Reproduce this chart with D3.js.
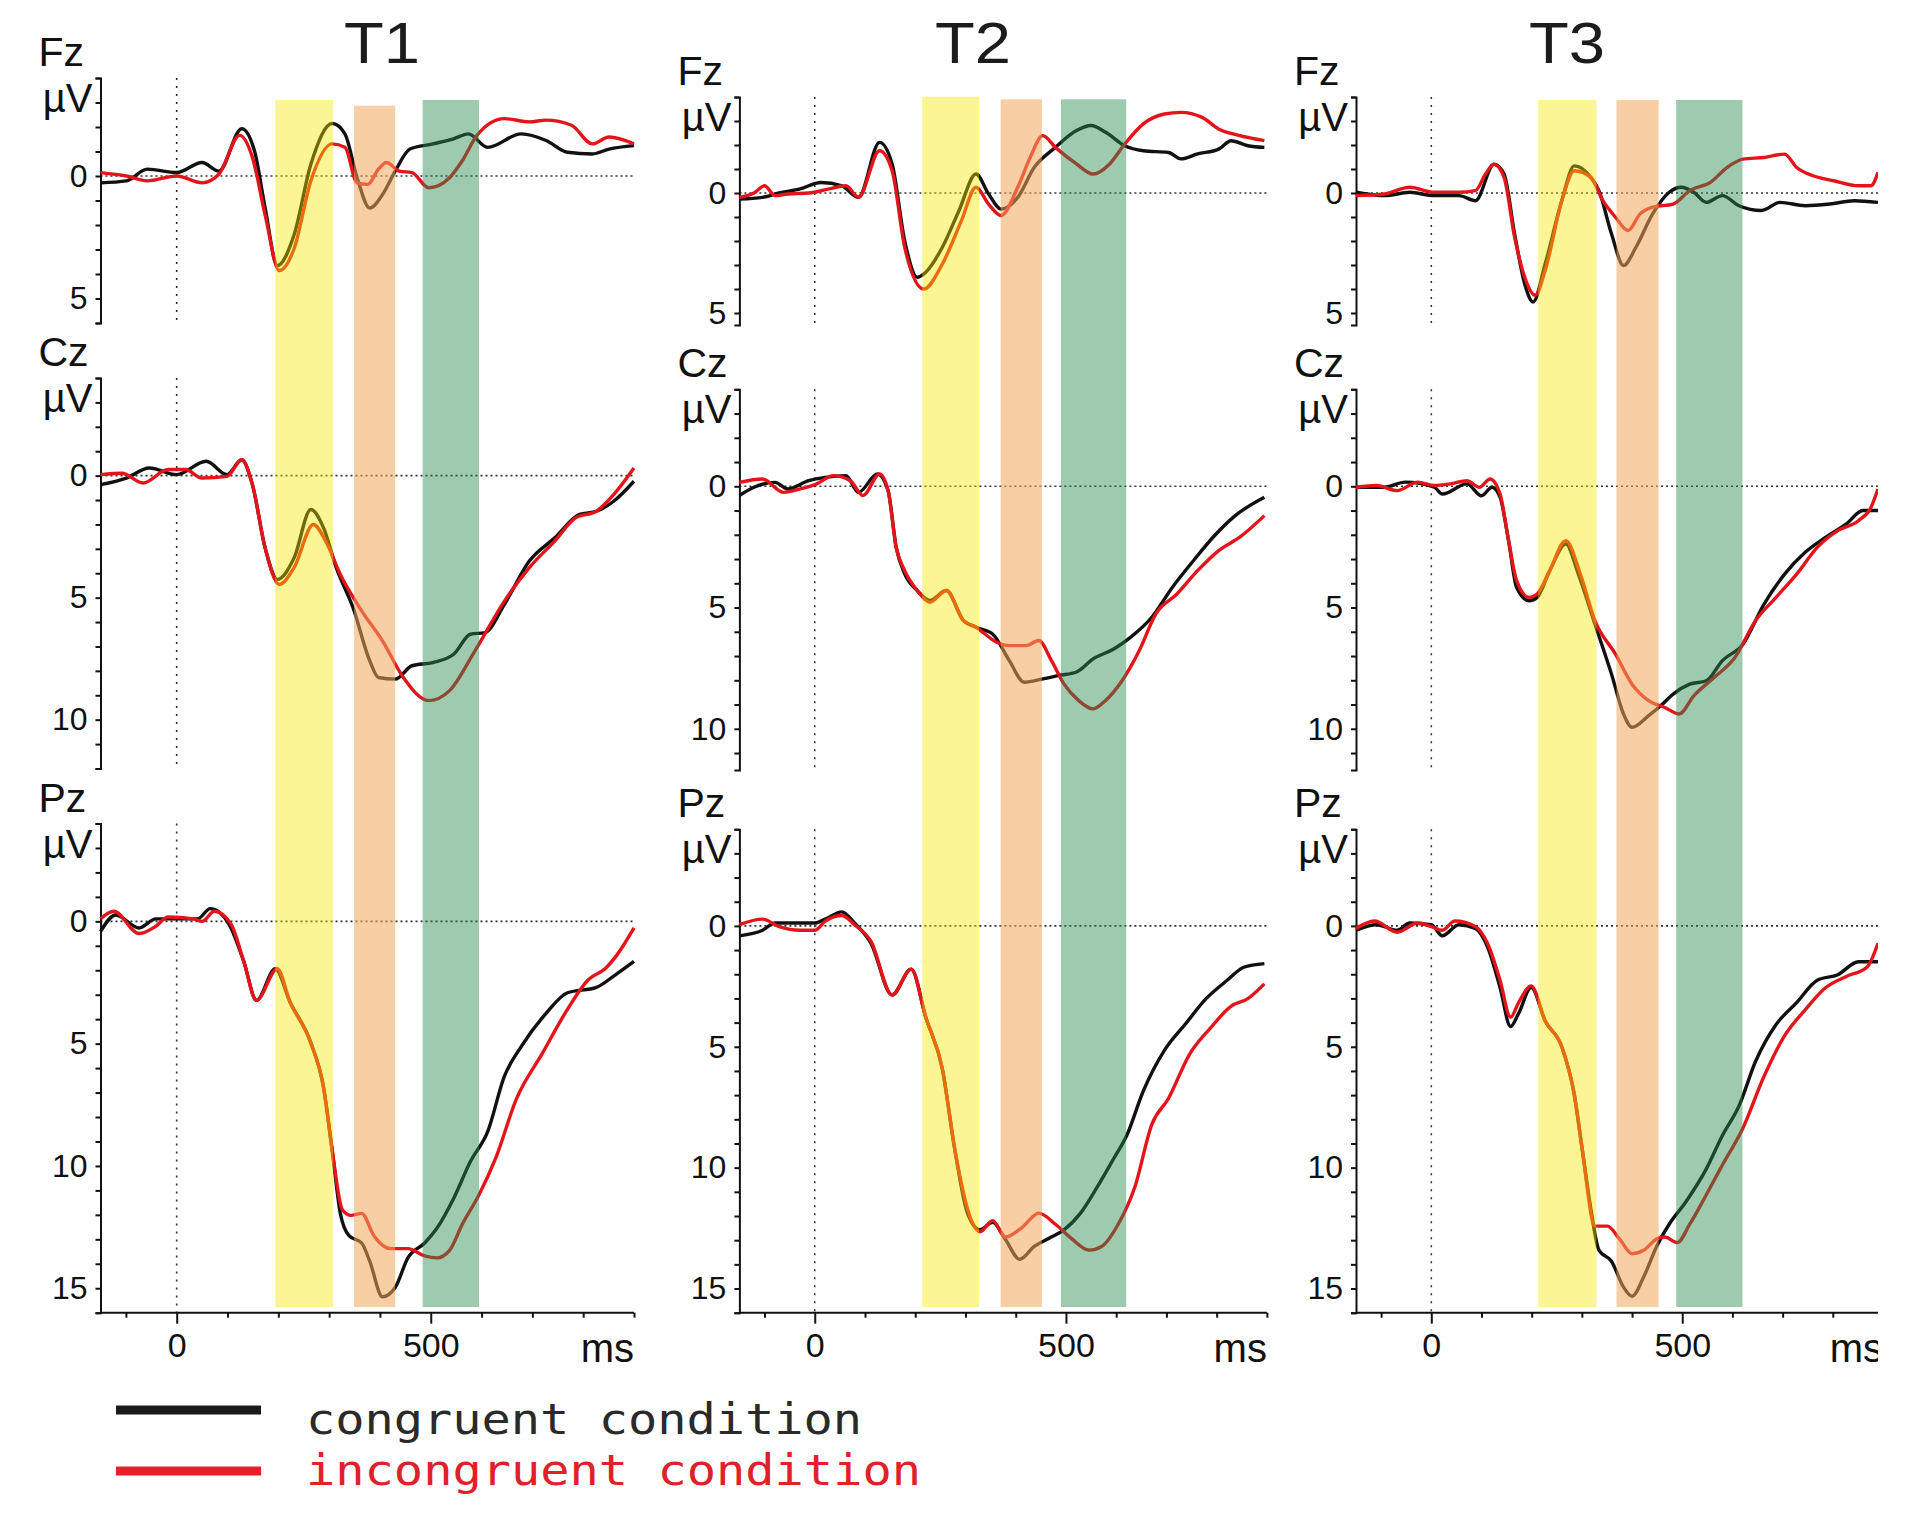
<!DOCTYPE html>
<html>
<head>
<meta charset="utf-8">
<title>ERP waveforms T1 T2 T3</title>
<script src="https://cdn.jsdelivr.net/npm/d3@7"></script>
<style>
  body { margin: 0; background: #fff; }
  svg text { font-family: "Liberation Sans", Arial, sans-serif; }
  svg text.legend-label { font-family: "DejaVu Sans Mono", monospace; }
</style>
</head>
<body>
<div id="chart"></div>
<script>
// ---- data: [ms, µV] (axis drawn with positive values downwards) ----
var sessions = ["T1", "T2", "T3"];
var electrodes = ["Fz", "Cz", "Pz"];
var conditions = ["congruent condition", "incongruent condition"];
var timeTicks = [-100, 0, 100, 200, 300, 400, 500, 600, 700, 800, 900];
var timeLabels = [0, 500];
var voltLabels = [0, 5, 10, 15];

var t1FzCongruent = [[-150,0.28],[-99,0.2],[-58,-0.28],[0,-0.14],[50,-0.55],[83,-0.2],[128,-1.93],[153,-1.03],[174,1.3],[198,3.66],[231,2.4],[264,-0.48],[306,-2.14],[331,-1.72],[355,0.07],[380,1.31],[405,0.76],[430,-0.2],[459,-1.1],[504,-1.31],[545,-1.52],[574,-1.72],[612,-1.17],[678,-1.72],[727,-1.45],[769,-0.97],[818,-0.9],[851,-1.1],[900,-1.24]];
var t1FzIncongruent = [[-150,-0.14],[-99,0],[-58,0.2],[0,0],[50,0.28],[83,-0.07],[124,-1.66],[149,-0.76],[174,1.59],[202,3.86],[231,2.97],[264,0.2],[306,-1.31],[331,-1.17],[355,0.28],[376,0.34],[397,-0.28],[413,-0.55],[438,-0.2],[463,-0.14],[496,0.48],[537,0.07],[562,-0.62],[591,-1.66],[645,-2.34],[694,-2.21],[727,-2.28],[777,-2.07],[818,-1.31],[851,-1.59],[900,-1.31]];
var t1CzCongruent = [[-150,0.37],[-99,0.1],[-54,-0.31],[0,-0.04],[58,-0.59],[99,-0.04],[128,-0.65],[149,0.37],[174,2.96],[198,4.25],[231,3.37],[264,1.39],[289,2.14],[314,3.77],[347,5.41],[380,7.59],[397,8.27],[430,8.34],[463,7.79],[504,7.66],[545,7.32],[578,6.5],[607,6.43],[645,5.27],[694,3.5],[744,2.55],[793,1.59],[826,1.46],[860,1.05],[900,0.23]];
var t1CzIncongruent = [[-150,-0.04],[-108,-0.1],[-66,0.3],[-17,-0.25],[17,-0.25],[50,0.1],[99,0.03],[128,-0.65],[149,0.37],[174,2.96],[202,4.46],[231,3.77],[269,2.0],[293,2.68],[322,4.05],[364,5.54],[405,6.77],[446,8.27],[496,9.22],[537,8.81],[587,7.18],[645,5.14],[694,3.77],[744,2.68],[785,1.73],[826,1.46],[860,0.78],[900,-0.31]];
var t1PzCongruent = [[-150,0.42],[-120,-0.26],[-74,0.27],[-41,-0.1],[0,-0.1],[41,-0.1],[66,-0.52],[103,0.12],[132,1.64],[157,3.23],[194,1.94],[223,3.3],[264,4.97],[289,6.79],[306,9.36],[322,11.94],[339,12.85],[364,13.15],[380,13.9],[405,15.35],[430,14.97],[455,13.76],[488,13.15],[512,12.55],[545,11.33],[578,9.82],[612,8.6],[645,6.33],[678,5.12],[727,3.76],[769,2.92],[826,2.7],[860,2.24],[900,1.64]];
var t1PzIncongruent = [[-150,-0.1],[-124,-0.41],[-74,0.5],[-41,0.2],[-17,-0.18],[33,-0.1],[50,0],[74,-0.41],[107,0.12],[132,1.64],[157,3.23],[198,1.94],[223,3.3],[264,4.97],[289,6.79],[306,9.36],[326,11.79],[343,12.02],[364,11.94],[388,12.85],[421,13.38],[455,13.38],[488,13.68],[512,13.76],[537,13.45],[562,12.39],[595,11.18],[628,9.67],[669,7.24],[719,5.42],[769,3.6],[810,2.39],[843,1.94],[868,1.33],[900,0.27]];

var t2FzCongruent = [[-150,0.25],[-104,0.18],[-71,0],[-29,-0.17],[12,-0.44],[54,-0.3],[87,0.18],[129,-2.11],[154,-1.21],[179,1.99],[204,3.51],[221,3.3],[254,2.26],[287,0.74],[321,-0.79],[346,0.04],[371,0.67],[404,0.18],[437,-1.07],[479,-1.9],[521,-2.6],[550,-2.81],[579,-2.53],[617,-1.97],[654,-1.76],[704,-1.69],[729,-1.42],[762,-1.63],[804,-1.83],[829,-2.18],[862,-1.97],[895,-1.9]];
var t2FzIncongruent = [[-150,0.18],[-121,0],[-100,-0.3],[-79,0.11],[-54,0.04],[-12,0],[29,-0.17],[62,-0.3],[87,0.18],[129,-1.76],[154,-0.93],[179,2.26],[217,4.0],[254,2.96],[292,1.15],[321,-0.24],[346,0.46],[371,0.94],[404,-0.24],[429,-1.49],[454,-2.39],[479,-1.9],[521,-1.21],[554,-0.79],[587,-1.21],[617,-2.04],[654,-2.88],[696,-3.29],[729,-3.36],[771,-3.15],[804,-2.67],[846,-2.39],[895,-2.18]];
var t2CzCongruent = [[-150,0.38],[-121,0.04],[-79,-0.16],[-54,0.11],[-12,-0.23],[21,-0.37],[62,-0.44],[87,0.25],[125,-0.51],[146,0.18],[162,2.51],[179,3.61],[204,4.3],[229,4.71],[262,4.3],[296,5.54],[321,5.81],[354,6.09],[387,7.18],[417,8.08],[454,7.94],[487,7.8],[521,7.66],[554,7.12],[596,6.7],[629,6.22],[671,5.4],[712,4.16],[754,3.06],[796,2.03],[837,1.21],[895,0.45]];
var t2CzIncongruent = [[-150,-0.16],[-104,-0.3],[-62,0.25],[-29,0.11],[4,-0.1],[37,-0.44],[71,-0.23],[96,0.38],[129,-0.51],[146,0.18],[162,2.51],[179,3.48],[204,4.3],[229,4.78],[262,4.3],[296,5.54],[321,5.81],[362,6.43],[387,6.57],[421,6.57],[446,6.36],[471,7.18],[496,8.15],[525,8.83],[554,9.18],[579,8.83],[612,8.01],[646,6.77],[679,5.26],[721,4.44],[762,3.48],[804,2.65],[846,2.1],[895,1.21]];
var t2PzCongruent = [[-150,0.41],[-104,0.18],[-79,-0.12],[-37,-0.12],[0,-0.12],[21,-0.28],[54,-0.58],[79,-0.12],[112,0.72],[154,2.86],[192,1.79],[221,3.78],[254,5.92],[279,9.28],[304,11.88],[329,12.57],[354,12.26],[379,12.95],[408,13.79],[437,13.26],[471,12.87],[496,12.57],[529,11.88],[562,10.81],[596,9.59],[621,8.67],[654,6.83],[696,5.15],[737,4.08],[779,3.01],[821,2.25],[854,1.71],[895,1.56]];
var t2PzIncongruent = [[-150,-0.05],[-104,-0.28],[-71,0.03],[-29,0.18],[0,0.18],[21,-0.2],[54,-0.43],[79,-0.05],[112,0.64],[154,2.86],[192,1.79],[221,3.78],[254,5.92],[279,9.28],[312,12.19],[329,12.65],[354,12.19],[379,12.87],[412,12.49],[446,11.88],[479,12.34],[512,12.95],[546,13.41],[571,13.26],[604,12.34],[637,10.81],[671,8.21],[704,7.14],[746,5.31],[787,4.24],[829,3.32],[862,3.01],[895,2.4]];

var t3FzCongruent = [[-150,-0.03],[-93,0.11],[-43,-0.03],[6,0.11],[55,0.11],[88,0.32],[125,-1.2],[145,-0.79],[166,1.7],[186,3.78],[203,4.54],[227,2.95],[260,0.32],[285,-1.13],[318,-0.65],[334,-0.1],[359,1.7],[383,3.02],[408,2.25],[441,0.87],[474,-0.03],[498,-0.24],[523,-0.03],[548,0.39],[580,0.11],[613,0.53],[658,0.73],[695,0.39],[745,0.53],[794,0.46],[843,0.32],[890,0.39]];
var t3FzIncongruent = [[-150,0.11],[-93,0.04],[-43,-0.24],[6,-0.03],[55,-0.03],[88,-0.1],[108,-0.79],[125,-1.2],[145,-0.65],[166,1.84],[186,3.5],[207,4.26],[227,3.22],[260,0.32],[285,-0.93],[318,-0.65],[342,0.32],[367,1.01],[392,1.56],[416,0.87],[441,0.59],[482,0.46],[515,-0.1],[556,-0.44],[589,-1.06],[621,-1.41],[663,-1.48],[704,-1.62],[728,-1.06],[761,-0.72],[802,-0.51],[851,-0.3],[876,-0.3],[890,-0.86]];
var t3CzCongruent = [[-150,0.04],[-93,0.04],[-52,-0.17],[6,0.04],[22,0.32],[71,-0.1],[100,0.39],[121,0.04],[137,0.45],[154,2.24],[170,4.17],[195,4.72],[211,4.58],[236,3.48],[268,2.38],[293,3.62],[326,5.68],[359,7.74],[383,9.39],[400,9.94],[433,9.46],[457,9.05],[482,8.57],[515,8.16],[548,8.02],[580,7.19],[621,6.51],[663,4.86],[704,3.62],[745,2.72],[786,2.1],[827,1.55],[860,1.0],[890,1.0]];
var t3CzIncongruent = [[-150,0.04],[-109,-0.03],[-68,0.18],[-27,-0.17],[6,-0.03],[38,-0.1],[71,-0.23],[96,0.04],[117,-0.3],[137,0.32],[154,2.24],[170,3.89],[195,4.58],[211,4.44],[236,3.48],[268,2.24],[297,3.62],[326,5.54],[367,6.92],[400,8.16],[433,8.84],[465,9.12],[494,9.39],[523,8.64],[564,7.88],[605,7.06],[646,5.54],[687,4.58],[728,3.62],[769,2.52],[810,1.83],[851,1.42],[876,0.87],[890,0.11]];
var t3PzCongruent = [[-150,0.18],[-109,-0.05],[-68,0.18],[-43,-0.12],[0,-0.05],[22,0.41],[55,-0.05],[88,0.11],[112,0.87],[137,2.55],[158,4.16],[174,3.62],[199,2.55],[227,3.93],[260,5.0],[285,6.99],[301,9.28],[318,11.73],[334,13.41],[359,13.87],[383,14.94],[400,15.32],[424,14.48],[449,13.26],[474,12.34],[507,11.42],[548,10.05],[580,8.67],[613,7.45],[646,5.61],[687,4.08],[728,3.17],[769,2.25],[810,2.02],[851,1.48],[890,1.48]];
var t3PzIncongruent = [[-150,0.11],[-113,-0.2],[-68,0.26],[-27,-0.12],[0,0.03],[22,0.18],[47,-0.2],[88,0.03],[112,0.72],[137,2.25],[158,3.78],[174,3.17],[199,2.48],[227,3.93],[260,5.0],[285,6.99],[301,9.28],[326,12.42],[351,12.42],[375,12.95],[400,13.56],[424,13.41],[449,12.95],[465,12.87],[490,13.1],[515,12.34],[548,11.12],[580,9.89],[621,8.36],[663,6.22],[704,4.54],[745,3.47],[786,2.55],[827,2.09],[868,1.71],[890,0.72]];

// analysis windows (ms): yellow, orange, green
var t1Windows = [[194, 308], [349, 430], [484, 595]];
var t2Windows = [[214, 327], [370, 452], [490, 620]];
var t3Windows = [[213, 329], [369, 453], [488, 620]];

// ---- layout ----
var W = 1907, H = 1531;
var timeDomain = [-150, 900];
var windowColors = [
  { fill: "#f5e600", opacity: 0.42 },
  { fill: "#f3a55a", opacity: 0.55 },
  { fill: "#288c50", opacity: 0.45 }
];
var lineColors = ["#111111", "#e4141b"];

var layout = [
  { xRange: [100.5, 634], titleX: 382, bandTop: [100, 105.7, 100],
    rows: [ { domain: [-4, 6], range: [78, 323] },
            { domain: [-4, 12], range: [378, 768.5] },
            { domain: [-4, 16], range: [823.5, 1312.7] } ] },
  { xRange: [739.4, 1266.9], titleX: 973, bandTop: [96.7, 99.3, 99.3],
    rows: [ { domain: [-4, 5.5], range: [97, 325] },
            { domain: [-4, 11.7], range: [389.3, 770] },
            { domain: [-4, 16], range: [829.2, 1312.7] } ] },
  { xRange: [1356, 1883], titleX: 1567, bandTop: [100, 100, 100],
    rows: [ { domain: [-4, 5.5], range: [97, 325] },
            { domain: [-4, 11.7], range: [389.3, 770] },
            { domain: [-4, 16], range: [829.2, 1312.7] } ] }
];
var bandBottom = 1307;

var waves = [
  [[t1FzCongruent, t1FzIncongruent], [t1CzCongruent, t1CzIncongruent], [t1PzCongruent, t1PzIncongruent]],
  [[t2FzCongruent, t2FzIncongruent], [t2CzCongruent, t2CzIncongruent], [t2PzCongruent, t2PzIncongruent]],
  [[t3FzCongruent, t3FzIncongruent], [t3CzCongruent, t3CzIncongruent], [t3PzCongruent, t3PzIncongruent]]
];
var windows = [t1Windows, t2Windows, t3Windows];

var svg = d3.select("#chart").append("svg")
  .attr("width", W).attr("height", H)
  .style("background", "#fff");

svg.append("defs").append("clipPath").attr("id", "clipRight")
  .append("rect").attr("x", 0).attr("y", 0).attr("width", 1878).attr("height", H);

sessions.forEach(function (session, ci) {
  var L = layout[ci];
  var g = svg.append("g");
  if (ci === 2) g.attr("clip-path", "url(#clipRight)");

  var x = d3.scaleLinear().domain(timeDomain).range(L.xRange);
  var axisX = L.xRange[0];

  // session title
  g.append("text")
    .attr("x", L.titleX).attr("y", 63)
    .attr("text-anchor", "middle")
    .attr("font-size", 57)
    .attr("textLength", 76).attr("lengthAdjust", "spacingAndGlyphs")
    .attr("fill", "#1c1c1c")
    .text(session);

  electrodes.forEach(function (el, ri) {
    var R = L.rows[ri];
    var y = d3.scaleLinear().domain(R.domain).range(R.range);
    var row = g.append("g");

    // dotted zero lines
    row.append("line")
      .attr("x1", axisX).attr("x2", x(timeDomain[1]))
      .attr("y1", y(0)).attr("y2", y(0))
      .attr("stroke", "#333").attr("stroke-width", 1.6)
      .attr("stroke-dasharray", "2,3");
    row.append("line")
      .attr("x1", x(0)).attr("x2", x(0))
      .attr("y1", y(R.domain[0])).attr("y2", y(R.domain[1]))
      .attr("stroke", "#333").attr("stroke-width", 1.6)
      .attr("stroke-dasharray", "2,6");

    // y axis
    var yTicks = d3.range(R.domain[0], Math.floor(R.domain[1]) + 0.001, 1);
    var yAxis = d3.axisLeft(y)
      .tickValues(yTicks)
      .tickSize(5).tickSizeOuter(5).tickPadding(8)
      .tickFormat(function (d) { return voltLabels.indexOf(d) >= 0 ? d : ""; });
    var ya = row.append("g")
      .attr("transform", "translate(" + axisX + ",0)")
      .call(yAxis);
    ya.attr("font-size", 32);
    ya.selectAll("path, line").attr("stroke", "#111").attr("stroke-width", 2);
    ya.selectAll("text").attr("fill", "#111");

    // x axis on the bottom row
    if (ri === 2) {
      var xAxis = d3.axisBottom(x)
        .tickValues(timeTicks)
        .tickSize(5).tickSizeOuter(0).tickPadding(15)
        .tickFormat(function (d) { return timeLabels.indexOf(d) >= 0 ? d : ""; });
      var xa = row.append("g")
        .attr("transform", "translate(0," + R.range[1] + ")")
        .call(xAxis);
      xa.select(".domain").attr("d", "M" + axisX + ",0H" + x(timeDomain[1]));
      xa.attr("font-size", 34);
      xa.selectAll("path, line").attr("stroke", "#111").attr("stroke-width", 2);
      xa.selectAll("text").attr("fill", "#111");
      xa.selectAll(".tick line").filter(function (d) { return timeLabels.indexOf(d) >= 0; })
        .attr("y2", 11);
      row.append("text")
        .attr("x", x(timeDomain[1])).attr("y", R.range[1] + 49)
        .attr("text-anchor", "end")
        .attr("font-size", 40).attr("fill", "#111")
        .text("ms");
    }

    // waveforms
    var line = d3.line()
      .x(function (d) { return x(d[0]); })
      .y(function (d) { return y(d[1]); })
      .curve(d3.curveMonotoneX);
    waves[ci][ri].forEach(function (data, k) {
      row.append("path")
        .datum(data)
        .attr("d", line)
        .attr("fill", "none")
        .attr("stroke", lineColors[k])
        .attr("stroke-width", 3.4)
        .attr("stroke-linejoin", "round");
    });

    // electrode and unit labels
    row.append("text")
      .attr("x", axisX - 62).attr("y", R.range[0] - 12)
      .attr("font-size", 41).attr("fill", "#111")
      .text(el);
    row.append("text")
      .attr("x", axisX - 8).attr("y", R.range[0] + 34)
      .attr("text-anchor", "end")
      .attr("font-size", 40).attr("fill", "#111")
      .text("\u00B5V");
  });

  // translucent analysis windows over the waveforms
  windows[ci].forEach(function (w, bi) {
    g.append("rect")
      .attr("x", x(w[0]))
      .attr("y", L.bandTop[bi])
      .attr("width", x(w[1]) - x(w[0]))
      .attr("height", bandBottom - L.bandTop[bi])
      .attr("fill", windowColors[bi].fill)
      .attr("fill-opacity", windowColors[bi].opacity);
  });
});

// legend
var legend = svg.append("g");
conditions.forEach(function (c, i) {
  var yy = [1410, 1471][i];
  legend.append("line")
    .attr("x1", 116).attr("x2", 261)
    .attr("y1", yy).attr("y2", yy)
    .attr("stroke", i === 0 ? "#1a1a1a" : "#e3202a")
    .attr("stroke-width", 9);
  legend.append("text")
    .attr("class", "legend-label")
    .attr("x", 306).attr("y", [1434, 1485][i])
    .attr("font-size", 42)
    .attr("textLength", [556, 615][i])
    .attr("lengthAdjust", "spacingAndGlyphs")
    .attr("fill", i === 0 ? "#2a2a2a" : "#e0202a")
    .text(c);
});
</script>
</body>
</html>
